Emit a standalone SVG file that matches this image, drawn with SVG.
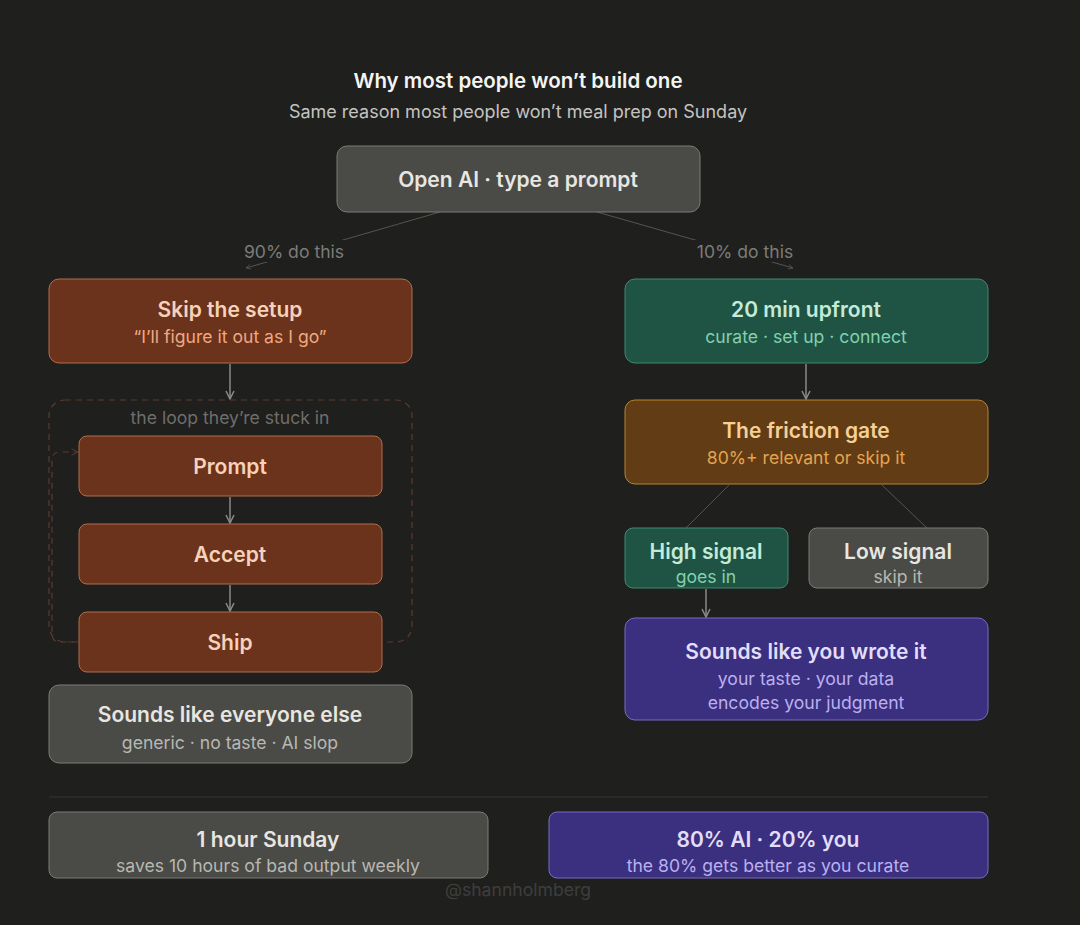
<svg xmlns="http://www.w3.org/2000/svg" width="1080" height="925" viewBox="0 0 1080 925">
<defs>
<style>
text{font-family:Inter,"Noto Sans","Liberation Sans",sans-serif;text-anchor:middle}
.h{font-size:21px;font-weight:600}
.s{font-size:17.6px;font-weight:400}
.gray rect{fill:#4a4a47;stroke:#7a7a76;stroke-width:1}
.gray .h{fill:#e8e6e0}.gray .s{fill:#b8b8b2}
.brown rect{fill:#6b321c;stroke:#b46c4c;stroke-width:1}
.brown .h{fill:#f7d2ba}.brown .s{fill:#f0a882}
.green rect{fill:#1f5444;stroke:#3f8a70;stroke-width:1}
.green .h{fill:#c4ead8}.green .s{fill:#80d2ae}
.amber rect{fill:#623c14;stroke:#b5862e;stroke-width:1}
.amber .h{fill:#f6d096}.amber .s{fill:#e4a452}
.purple rect{fill:#3b2f80;stroke:#7a6ac8;stroke-width:1}
.purple .h{fill:#e2ddf8}.purple .s{fill:#bab0f0}
.ln{stroke:#8a8a86;stroke-width:1.5;fill:none}
.thin{stroke:#555552;stroke-width:1;fill:none}
.dash{stroke:#5c3a2e;stroke-width:1.2;fill:none;stroke-dasharray:6 5}
</style>
<marker id="arr" viewBox="0 0 10 10" refX="9" refY="5" markerWidth="10" markerHeight="10" markerUnits="userSpaceOnUse" orient="auto">
<path d="M1,1 L9,5 L1,9" fill="none" stroke="#8a8a86" stroke-width="1.5"/>
</marker>
<marker id="arrd" viewBox="0 0 10 10" refX="9" refY="5" markerWidth="8" markerHeight="8" markerUnits="userSpaceOnUse" orient="auto">
<path d="M1,1 L9,5 L1,9" fill="none" stroke="#5c3a2e" stroke-width="1.2"/>
</marker>
<marker id="arrs" viewBox="0 0 10 10" refX="9" refY="5" markerWidth="6" markerHeight="6" markerUnits="userSpaceOnUse" orient="auto">
<path d="M1,1 L9,5 L1,9" fill="none" stroke="#555552" stroke-width="1.2"/>
</marker>
</defs>
<rect x="0" y="0" width="1080" height="925" fill="#1f1f1e"/>

<g id="title">
<text x="518" y="88" style="font-size:20.5px;font-weight:600;fill:#f4f4f2">Why most people won’t build one</text>
<text x="518" y="118" style="font-size:18px;fill:#c4c4c0">Same reason most people won’t meal prep on Sunday</text>
</g>

<g id="connectors">
<line class="thin" x1="440" y1="212" x2="246" y2="268" marker-end="url(#arrs)"/>
<line class="thin" x1="597" y1="212" x2="793" y2="268" marker-end="url(#arrs)"/>
<rect x="236" y="240" width="116" height="22" fill="#1f1f1e"/>
<rect x="688" y="240" width="116" height="22" fill="#1f1f1e"/>
<text x="294" y="258" style="font-size:17.6px;fill:#7c7c78">90% do this</text>
<text x="745" y="258" style="font-size:17.6px;fill:#7c7c78">10% do this</text>
<line class="ln" x1="230" y1="364" x2="230" y2="399" marker-end="url(#arr)"/>
<line class="ln" x1="230" y1="497" x2="230" y2="523" marker-end="url(#arr)"/>
<line class="ln" x1="230" y1="585" x2="230" y2="611" marker-end="url(#arr)"/>
<path class="dash" d="M78,642 H60 Q52,642 52,634 V460 Q52,452 60,452 H78" marker-end="url(#arrd)"/>
<line class="ln" x1="806" y1="364" x2="806" y2="399" marker-end="url(#arr)"/>
<line class="thin" x1="729" y1="485" x2="686" y2="528"/>
<line class="thin" x1="882" y1="485" x2="927" y2="528"/>
<line class="ln" x1="706" y1="589" x2="706" y2="617" marker-end="url(#arr)"/>
<line x1="49" y1="797" x2="988" y2="797" stroke="#2f2f2d" stroke-width="1.5"/>
</g>

<g id="open-ai" class="gray">
<rect x="337" y="146" width="363" height="66" rx="10"/>
<text class="h" x="518" y="187">Open AI · type a prompt</text>
</g>

<g id="skip-setup" class="brown">
<rect x="49" y="279" width="363" height="84" rx="10"/>
<text class="h" x="230" y="317">Skip the setup</text>
<text class="s" x="230" y="343">“I’ll figure it out as I go”</text>
</g>

<g id="loop">
<rect class="dash" x="49" y="400" width="363" height="242" rx="16"/>
<text x="230" y="424" style="font-size:17.6px;fill:#6e6e6a">the loop they’re stuck in</text>
</g>

<g id="prompt" class="brown">
<rect x="79" y="436" width="303" height="60" rx="8"/>
<text class="h" x="230" y="474">Prompt</text>
</g>
<g id="accept" class="brown">
<rect x="79" y="524" width="303" height="60" rx="8"/>
<text class="h" x="230" y="562">Accept</text>
</g>
<g id="ship" class="brown">
<rect x="79" y="612" width="303" height="60" rx="8"/>
<text class="h" x="230" y="650">Ship</text>
</g>

<g id="everyone-else" class="gray">
<rect x="49" y="685" width="363" height="78" rx="10"/>
<text class="h" x="230" y="722">Sounds like everyone else</text>
<text class="s" x="230" y="749">generic · no taste · AI slop</text>
</g>

<g id="upfront" class="green">
<rect x="625" y="279" width="363" height="84" rx="10"/>
<text class="h" x="806" y="317">20 min upfront</text>
<text class="s" x="806" y="343">curate · set up · connect</text>
</g>

<g id="friction-gate" class="amber">
<rect x="625" y="400" width="363" height="84" rx="10"/>
<text class="h" x="806" y="438">The friction gate</text>
<text class="s" x="806" y="464">80%+ relevant or skip it</text>
</g>

<g id="high-signal" class="green">
<rect x="625" y="528" width="163" height="60" rx="8"/>
<text class="h" x="706" y="559">High signal</text>
<text class="s" x="706" y="583">goes in</text>
</g>

<g id="low-signal" class="gray">
<rect x="809" y="528" width="179" height="60" rx="8"/>
<text class="h" x="898" y="559">Low signal</text>
<text class="s" x="898" y="583">skip it</text>
</g>

<g id="you-wrote-it" class="purple">
<rect x="625" y="618" width="363" height="102" rx="10"/>
<text class="h" x="806" y="659">Sounds like you wrote it</text>
<text class="s" x="806" y="685">your taste · your data</text>
<text class="s" x="806" y="709">encodes your judgment</text>
</g>

<g id="one-hour" class="gray">
<rect x="49" y="812" width="439" height="66" rx="8"/>
<text class="h" x="268" y="847">1 hour Sunday</text>
<text class="s" x="268" y="872">saves 10 hours of bad output weekly</text>
</g>

<g id="ai-split" class="purple">
<rect x="549" y="812" width="439" height="66" rx="8"/>
<text class="h" x="768" y="847">80% AI · 20% you</text>
<text class="s" x="768" y="872">the 80% gets better as you curate</text>
</g>

<text x="518" y="896" style="font-size:17.6px;fill:#3e3e3c">@shannholmberg</text>
</svg>
